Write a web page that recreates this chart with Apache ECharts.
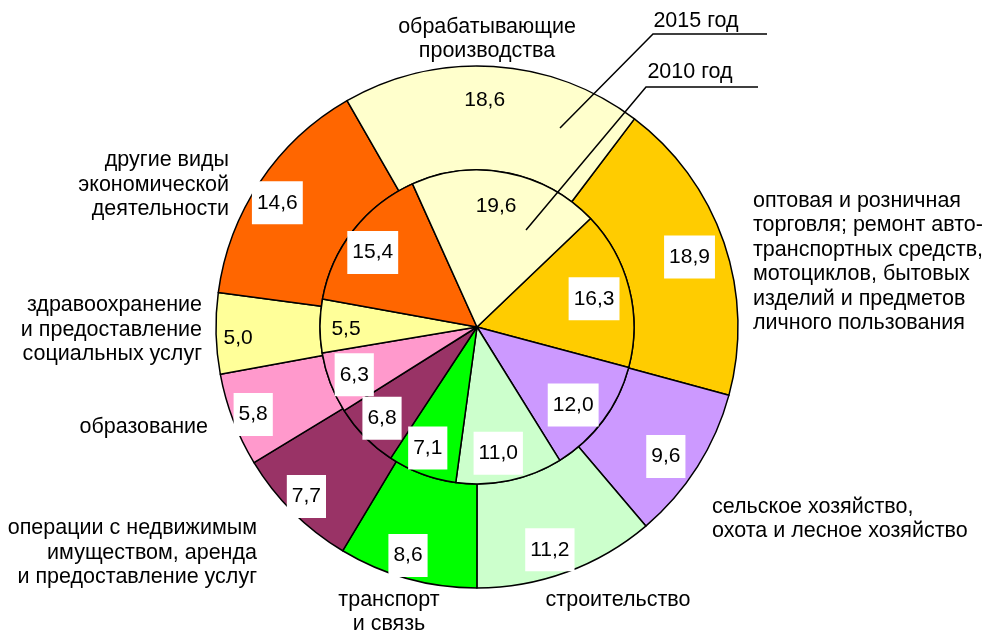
<!DOCTYPE html>
<html>
<head>
<meta charset="utf-8">
<script src="https://cdn.jsdelivr.net/npm/echarts@6/dist/echarts.min.js"></script>
<style>
  html, body { margin: 0; padding: 0; background: #fff; }
  #chart { width: 984px; height: 632px; }
</style>
</head>
<body>
<div id="chart"></div>
<script>
// отрасли, по часовой стрелке
const categories = [
  'оптовая и розничная\nторговля; ремонт авто-\nтранспортных средств,\nмотоциклов, бытовых\nизделий и предметов\nличного пользования',
  'сельское хозяйство,\nохота и лесное хозяйство',
  'строительство',
  'транспорт\nи связь',
  'операции с недвижимым\nимуществом, аренда\nи предоставление услуг',
  'образование',
  'здравоохранение\nи предоставление\nсоциальных услуг',
  'другие виды\nэкономической\nдеятельности',
  'обрабатывающие\nпроизводства'
]
const values2015 = [18.9, 9.6, 11.2, 8.6, 7.7, 5.8, 5.0, 14.6, 18.6]
const values2010 = [16.3, 12.0, 11.0, 7.1, 6.8, 6.3, 5.5, 15.4, 19.6]
const yearLabels = ['2015 год', '2010 год']

const colors = ['#FFCC00', '#CC99FF', '#CCFFCC', '#00FF00', '#993366', '#FF99CC', '#FFFF99', '#FF6600', '#FFFFCC']
const font = 'Arial, "Liberation Sans", sans-serif'
const center = [477, 327]

// где стоят подписи отраслей
const namePos = [
  [753, 262, 'left'],
  [712, 519, 'left'],
  [618, 600, 'center'],
  [389, 612, 'center'],
  [257, 553, 'right'],
  [208, 427, 'right'],
  [202, 330, 'right'],
  [229, 185, 'right'],
  [487, 39, 'center']
]
const paleSlices = [6, 8] // без белой подложки

const fmt = v => v.toFixed(1).replace('.', ',')

const sliceData = vals => vals.map((v, i) => ({
  name: categories[i],
  value: v,
  itemStyle: { color: colors[i] }
}))

const valueData = vals => vals.map((v, i) => ({
  name: categories[i],
  value: v,
  label: paleSlices.includes(i) ? { backgroundColor: 'transparent' } : {}
}))

const valueLabel = {
  show: true,
  position: 'inside',
  formatter: p => fmt(p.value),
  color: '#000',
  fontFamily: font,
  fontSize: 21,
  lineHeight: 23,
  backgroundColor: '#fff',
  padding: [10, 5]
}

const pieBase = {
  type: 'pie',
  center: center,
  clockwise: true,
  silent: true,
  animation: false,
  avoidLabelOverlap: false,
  labelLine: { show: false },
  emphasis: { disabled: true }
}

const chart = echarts.init(document.getElementById('chart'), null, { renderer: 'canvas' })

chart.setOption({
  backgroundColor: '#fff',
  series: [
    {
      ...pieBase,
      name: '2015',
      radius: [157, 261],
      startAngle: 52.9,
      label: { show: false },
      itemStyle: { borderColor: '#000', borderWidth: 1.5 },
      data: sliceData(values2015)
    },
    {
      ...pieBase,
      name: '2010',
      radius: [0, 157],
      startAngle: 43.7,
      label: { show: false },
      itemStyle: { borderColor: '#000', borderWidth: 1.5 },
      data: sliceData(values2010)
    },
    {
      ...pieBase,
      name: '2015 подписи',
      radius: [197, 261],
      startAngle: 52.9,
      itemStyle: { color: 'rgba(0,0,0,0)', borderWidth: 0 },
      label: valueLabel,
      labelLayout: { dx: -7, dy: 5 },
      data: valueData(values2015)
    },
    {
      ...pieBase,
      name: '2010 подписи',
      radius: [89, 157],
      startAngle: 43.7,
      itemStyle: { color: 'rgba(0,0,0,0)', borderWidth: 0 },
      label: valueLabel,
      labelLayout: { dx: -5, dy: 3 },
      data: valueData(values2010)
    },
    {
      ...pieBase,
      name: 'отрасли',
      radius: [0, 261],
      startAngle: 52.9,
      itemStyle: { color: 'rgba(0,0,0,0)', borderWidth: 0 },
      label: {
        show: true,
        position: 'outside',
        alignTo: 'none',
        formatter: '{b}',
        color: '#000',
        fontFamily: font,
        fontSize: 21.5,
        lineHeight: 24.5
      },
      labelLayout: p => {
        const pos = namePos[p.dataIndex]
        return { x: pos[0], y: pos[1], align: pos[2], verticalAlign: 'middle' }
      },
      data: values2015.map((v, i) => ({ name: categories[i], value: v }))
    }
  ],
  graphic: [
    {
      type: 'polyline', z: 100,
      shape: { points: [[767, 34], [653, 34], [560, 128]] },
      style: { stroke: '#000', lineWidth: 1.5, fill: null }
    },
    {
      type: 'polyline', z: 100,
      shape: { points: [[758, 87], [646, 87], [526, 230]] },
      style: { stroke: '#000', lineWidth: 1.5, fill: null }
    },
    {
      type: 'text', z: 100, x: 696, y: 21,
      style: { text: yearLabels[0], font: '21.5px ' + font, fill: '#000', align: 'center', verticalAlign: 'middle' }
    },
    {
      type: 'text', z: 100, x: 690, y: 72,
      style: { text: yearLabels[1], font: '21.5px ' + font, fill: '#000', align: 'center', verticalAlign: 'middle' }
    }
  ]
})

window.addEventListener('resize', () => chart.resize())
</script>
</body>
</html>
